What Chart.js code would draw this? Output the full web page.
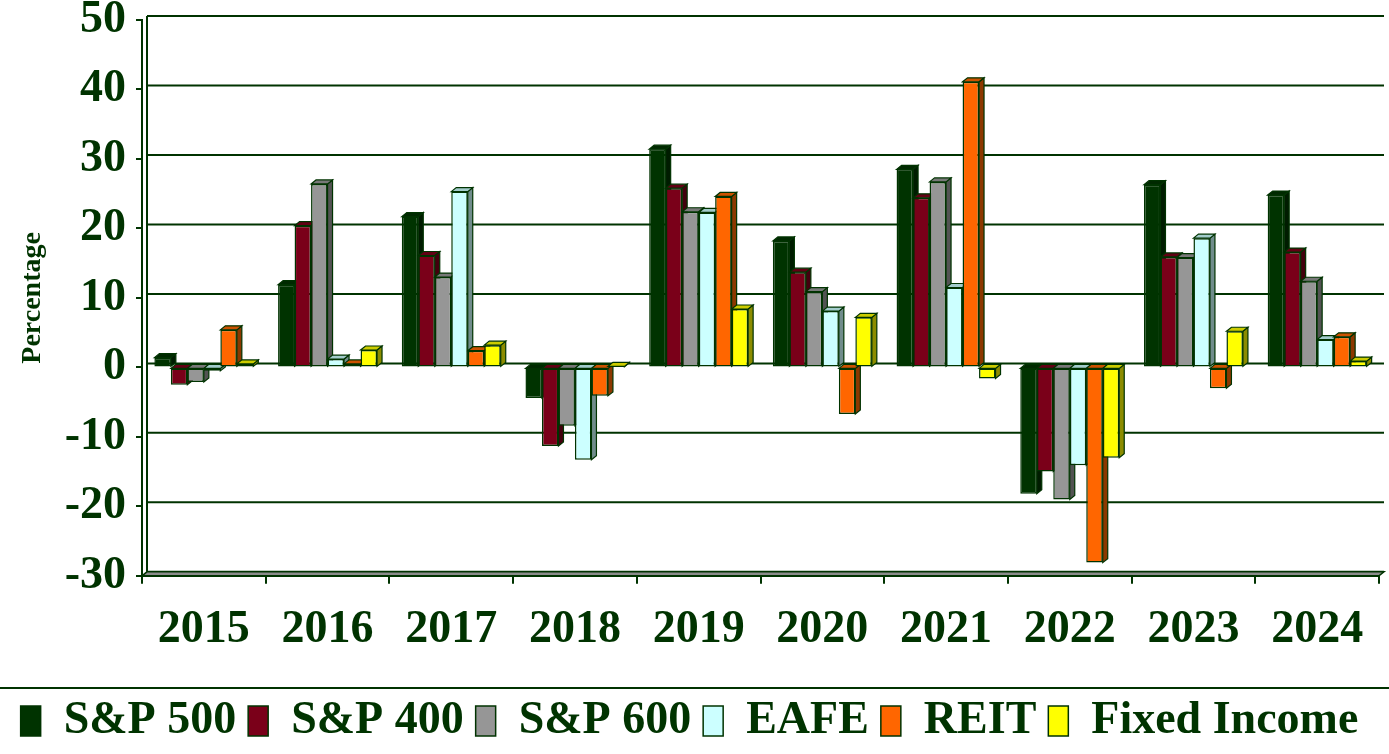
<!DOCTYPE html>
<html>
<head>
<meta charset="utf-8">
<script src="https://cdn.jsdelivr.net/npm/chart.js@4/dist/chart.umd.min.js"></script>
<style>
  html, body { margin: 0; padding: 0; background: #ffffff; }
  #wrap { width: 1389px; height: 754px; }
</style>
</head>
<body>
<div id="wrap"><canvas id="chart" width="1389" height="754"></canvas></div>
<script>
// values (percent)
const years = ['2015', '2016', '2017', '2018', '2019', '2020', '2021', '2022', '2023', '2024'];
const sp500 = [1.4, 11.9, 21.7, -4.4, 31.4, 18.2, 28.5, -18.2, 26.3, 24.8];
const sp400 = [-2.5, 20.4, 16.1, -11.3, 25.8, 13.7, 24.4, -15.0, 15.9, 16.6];
const sp600 = [-2.1, 26.4, 13.0, -8.4, 22.4, 10.9, 26.7, -19.0, 15.8, 12.4];
const eafe = [-0.5, 1.2, 25.3, -13.3, 22.3, 8.1, 11.5, -14.1, 18.6, 4.0];
const reit = [5.4, 0.5, 2.4, -4.1, 24.6, -6.7, 41.1, -28.1, -3.0, 4.4];
const fixedIncome = [0.5, 2.5, 3.2, 0.1, 8.4, 7.2, -1.6, -13.0, 5.2, 0.9];
const yTicks = [-30, -20, -10, 0, 10, 20, 30, 40, 50];

const ink = '#003300';
const font = 'Liberation Serif, Times New Roman, serif';
const depthX = 5, depthY = 4;

const shade = (hex, f) => {
    const n = parseInt(hex.slice(1), 16);
    const r = Math.round(((n >> 16) & 255) * f);
    const g = Math.round(((n >> 8) & 255) * f);
    const b = Math.round((n & 255) * f);
    return `rgb(${r},${g},${b})`;
};

const series = [
    { label: 'S&P 500', data: sp500, color: '#003300' },
    { label: 'S&P 400', data: sp400, color: '#7a0019' },
    { label: 'S&P 600', data: sp600, color: '#969696' },
    { label: 'EAFE', data: eafe, color: '#ccffff' },
    { label: 'REIT', data: reit, color: '#ff6600' },
    { label: 'Fixed Income', data: fixedIncome, color: '#ffff00' }
];

// back wall grid, side walls and the depth faces of every bar
const depth3d = {
    id: 'depth3d',
    beforeDatasetsDraw(chart) {
        const { ctx, chartArea: a, scales } = chart;
        const y = scales.y;
        ctx.save();
        ctx.strokeStyle = ink;
        ctx.lineWidth = 2;
        yTicks.forEach(v => {
            const py = y.getPixelForValue(v) - depthY;
            ctx.beginPath();
            ctx.moveTo(a.left + depthX, py);
            ctx.lineTo(a.right + depthX, py);
            ctx.stroke();
        });
        ctx.beginPath();
        ctx.moveTo(a.left + depthX, a.top - depthY);
        ctx.lineTo(a.left + depthX, a.bottom - depthY);
        ctx.stroke();
        // floor
        ctx.fillStyle = '#8c8c8c';
        ctx.beginPath();
        ctx.moveTo(a.left, a.bottom);
        ctx.lineTo(a.left + depthX, a.bottom - depthY);
        ctx.lineTo(a.right + depthX, a.bottom - depthY);
        ctx.lineTo(a.right, a.bottom);
        ctx.closePath();
        ctx.fill();
        ctx.lineWidth = 1.5;
        ctx.stroke();

        chart.data.datasets.forEach((ds, i) => {
            const meta = chart.getDatasetMeta(i);
            meta.data.forEach(bar => {
                const { x, y: by, base, width } = bar.getProps(['x', 'y', 'base', 'width'], true);
                const l = x - width / 2, r = x + width / 2;
                const top = Math.min(by, base), bot = Math.max(by, base);
                ctx.lineWidth = 1.2;
                ctx.strokeStyle = ink;
                ctx.fillStyle = ds.sideColor;
                ctx.beginPath();
                ctx.moveTo(r, top);
                ctx.lineTo(r + depthX, top - depthY);
                ctx.lineTo(r + depthX, bot - depthY);
                ctx.lineTo(r, bot);
                ctx.closePath();
                ctx.fill();
                ctx.stroke();
                ctx.fillStyle = ds.topColor;
                ctx.beginPath();
                ctx.moveTo(l, top);
                ctx.lineTo(l + depthX, top - depthY);
                ctx.lineTo(r + depthX, top - depthY);
                ctx.lineTo(r, top);
                ctx.closePath();
                ctx.fill();
                ctx.stroke();
            });
        });
        ctx.restore();
    },
    afterDraw(chart) {
        const { ctx, legend } = chart;
        ctx.save();
        ctx.strokeStyle = ink;
        ctx.lineWidth = 2;
        ctx.beginPath();
        ctx.moveTo(0, legend.top + 2);
        ctx.lineTo(chart.width, legend.top + 2);
        ctx.stroke();
        ctx.restore();
    }
};

new Chart(document.getElementById('chart'), {
    type: 'bar',
    data: {
        labels: years,
        datasets: series.map(s => ({
            label: s.label,
            data: s.data,
            backgroundColor: s.color,
            borderColor: ink,
            borderWidth: 1.5,
            borderSkipped: false,
            sideColor: shade(s.color, 0.55),
            topColor: shade(s.color, 0.8)
        }))
    },
    options: {
        responsive: false,
        animation: false,
        layout: { padding: { top: 0, right: 10, bottom: 0, left: 0 } },
        plugins: {
            tooltip: { enabled: false },
            legend: {
                position: 'bottom',
                labels: {
                    color: ink,
                    boxWidth: 20,
                    boxHeight: 30,
                    padding: 12,
                    font: { family: font, size: 46, weight: 'bold' }
                }
            }
        },
        datasets: {
            bar: { categoryPercentage: 0.8, barPercentage: 1.0 }
        },
        scales: {
            x: {
                afterFit: scale => { scale.height += 9; },
                grid: { display: true, drawOnChartArea: false, offset: true, tickLength: 8, color: ink, lineWidth: 2 },
                border: { display: true, color: ink, width: 2 },
                ticks: { color: ink, padding: 19, font: { family: font, size: 46, weight: 'bold' } }
            },
            y: {
                min: -30,
                max: 50,
                afterFit: scale => {
                    scale.width = 142;
                    scale.paddingTop = 20;
                },
                grid: { display: true, drawOnChartArea: false, tickLength: 6, color: ink, lineWidth: 2 },
                border: { display: true, color: ink, width: 2 },
                ticks: { stepSize: 10, color: ink, padding: 10, font: { family: font, size: 46, weight: 'bold' } },
                title: {
                    display: true,
                    text: 'Percentage',
                    color: ink,
                    padding: { top: 16, bottom: 0 },
                    font: { family: font, size: 28, weight: 'bold' }
                }
            }
        }
    },
    plugins: [depth3d]
});
</script>
</body>
</html>
